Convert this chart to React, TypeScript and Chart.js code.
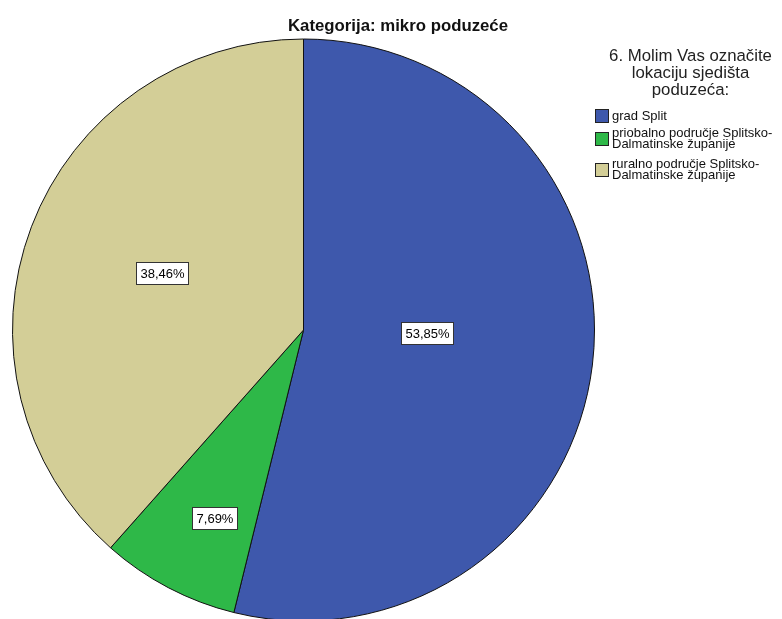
import React, { useEffect, useRef } from "react";
import { Chart, registerables } from "chart.js";

Chart.register(...registerables);

const chartTitle = "Kategorija: mikro poduzeće";
const legendTitleLines = ["6. Molim Vas označite", "lokaciju sjedišta", "poduzeća:"];
const categories: string[][] = [
  ["grad Split"],
  ["priobalno područje Splitsko-", "Dalmatinske županije"],
  ["ruralno područje Splitsko-", "Dalmatinske županije"],
];
const counts = [7, 1, 5];
const sliceColors = ["#3E58AC", "#2EB848", "#D3CE97"];
// label placement styles (fraction of radius, angle shift in degrees)
const labelRadius = [0.423, 0.714, 0.523];
const labelAngleShift = [-5.5, -2.2, 1.2];

const FONT = "'Liberation Sans', Arial, sans-serif";

const fmtPct = (v: number, total: number) =>
  ((v / total) * 100).toFixed(2).replace(".", ",") + "%";

const overlayPlugin = {
  id: "spssOverlay",
  afterDatasetsDraw(chart: any) {
    const ctx: CanvasRenderingContext2D = chart.ctx;
    const meta = chart.getDatasetMeta(0);
    const data: number[] = chart.data.datasets[0].data;
    const total = data.reduce((a, b) => a + b, 0);
    ctx.save();
    // slice labels
    ctx.font = `13px ${FONT}`;
    ctx.textAlign = "center";
    ctx.textBaseline = "middle";
    meta.data.forEach((arc: any, i: number) => {
      const p = arc.getProps(["x", "y", "startAngle", "endAngle", "outerRadius"], true);
      const mid = (p.startAngle + p.endAngle) / 2 + (labelAngleShift[i] * Math.PI) / 180;
      const r = p.outerRadius * labelRadius[i];
      const cx = p.x + Math.cos(mid) * r;
      const cy = p.y + Math.sin(mid) * r;
      const txt = fmtPct(data[i], total);
      const w = ctx.measureText(txt).width + 8;
      const h = 22;
      const bx = Math.round(cx - w / 2) + 0.5;
      const by = Math.round(cy - h / 2) + 0.5;
      ctx.fillStyle = "#ffffff";
      ctx.fillRect(bx, by, Math.round(w), h);
      ctx.strokeStyle = "#333333";
      ctx.lineWidth = 1;
      ctx.strokeRect(bx, by, Math.round(w), h);
      ctx.fillStyle = "#000000";
      ctx.fillText(txt, bx + Math.round(w) / 2, by + h / 2 + 1);
    });

    // chart title
    ctx.font = `bold 16.8px ${FONT}`;
    ctx.textAlign = "center";
    ctx.textBaseline = "alphabetic";
    ctx.fillStyle = "#111111";
    ctx.fillText(chartTitle, 398, 31);

    // legend title
    ctx.font = `16.8px ${FONT}`;
    ctx.fillStyle = "#222222";
    const titleBase = [61, 78, 94.5];
    legendTitleLines.forEach((line, i) => ctx.fillText(line, 690.5, titleBase[i]));

    // legend items
    const itemTop = [109, 132, 163];
    const lineGap = 10.7;
    ctx.font = `13px ${FONT}`;
    ctx.textAlign = "left";
    categories.forEach((lines, i) => {
      const y0 = itemTop[i];
      ctx.fillStyle = sliceColors[i];
      ctx.fillRect(595.5, y0 + 0.5, 13, 13);
      ctx.strokeStyle = "#222222";
      ctx.strokeRect(595.5, y0 + 0.5, 13, 13);
      ctx.fillStyle = "#111111";
      const firstBase = y0 + 6.5 + 4.3 - ((lines.length - 1) * lineGap) / 2;
      lines.forEach((l, j) => ctx.fillText(l, 612, firstBase + j * lineGap));
    });
    ctx.restore();
  },
};

export default function App() {
  const ref = useRef<HTMLCanvasElement | null>(null);
  useEffect(() => {
    if (!ref.current) return;
    const chart = new Chart(ref.current, {
      type: "pie",
      data: {
        labels: categories,
        datasets: [
          {
            data: counts,
            backgroundColor: sliceColors,
            borderColor: "#111111",
            borderWidth: 1,
            clip: false,
          } as any,
        ],
      },
      options: {
        responsive: false,
        animation: false,
        devicePixelRatio: 1,
        radius: 291,
        layout: { padding: { left: 12, right: 187, top: 41, bottom: 0 } },
        plugins: {
          legend: { display: false },
          title: { display: false },
          tooltip: { enabled: false },
        },
      } as any,
      plugins: [overlayPlugin],
    });
    return () => chart.destroy();
  }, []);
  return (
    <div style={{ position: "absolute", left: 0, top: 0, width: 782, height: 619, background: "#fff" }}>
      <canvas ref={ref} width={782} height={619} />
    </div>
  );
}
